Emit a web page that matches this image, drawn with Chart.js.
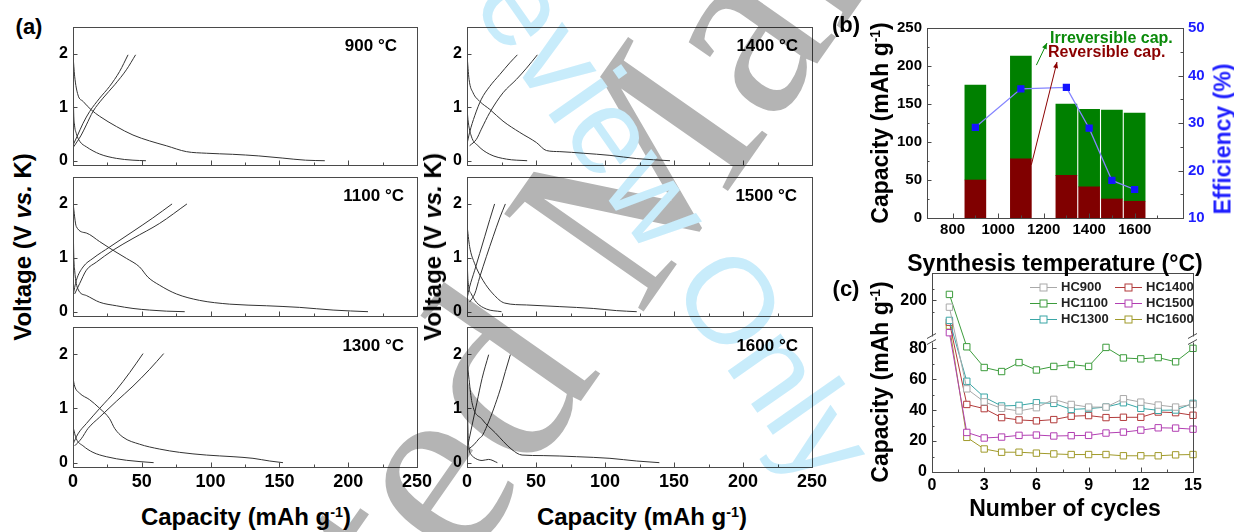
<!DOCTYPE html>
<html>
<head>
<meta charset="utf-8">
<title>Hard carbon anodes</title>
<script src="https://cdn.jsdelivr.net/npm/chart.js@4.4.1/dist/chart.umd.min.js"></script>
<style>
  html, body { margin: 0; padding: 0; }
  body { width: 1234px; height: 532px; position: relative; overflow: hidden; background: #fff;
         font-family: "Liberation Sans", Arial, sans-serif; }
  canvas { position: absolute; }
  .t { position: absolute; font-weight: bold; color: #000; white-space: nowrap; line-height: 1;
       transform: translate(-50%, -50%); }
  .rot { transform: translate(-50%, -50%) rotate(-90deg); }
  .t sup { font-size: 60%; vertical-align: 0.55em; line-height: 0; }
  #wm { position: absolute; left: 0; top: 0; pointer-events: none; mix-blend-mode: multiply; }
</style>
</head>
<body>
<canvas id="a900" width="390" height="144" style="left:43px;top:24px"></canvas>
<canvas id="a1100" width="390" height="145" style="left:43px;top:174px"></canvas>
<canvas id="a1300" width="390" height="171" style="left:43px;top:324px"></canvas>
<canvas id="a1400" width="395" height="144" style="left:437px;top:24px"></canvas>
<canvas id="a1500" width="395" height="145" style="left:437px;top:174px"></canvas>
<canvas id="a1600" width="395" height="171" style="left:437px;top:324px"></canvas>
<canvas id="b" width="328" height="224" style="left:887px;top:20px"></canvas>
<canvas id="c" width="315" height="230" style="left:892px;top:266px"></canvas>

<div class="t" style="left:29px;top:27px;font-size:22px">(a)</div>
<div class="t" style="left:846px;top:25px;font-size:22px">(b)</div>
<div class="t" style="left:846px;top:289px;font-size:22px">(c)</div>
<div class="t rot" style="left:23px;top:247px;font-size:24px">Voltage (V <i>vs.</i> K)</div>
<div class="t rot" style="left:433px;top:247px;font-size:24px">Voltage (V <i>vs.</i> K)</div>
<div class="t" style="left:246px;top:517px;font-size:24px">Capacity (mAh g<sup>-1</sup>)</div>
<div class="t" style="left:642px;top:517px;font-size:24px">Capacity (mAh g<sup>-1</sup>)</div>
<div class="t rot" style="left:880px;top:123px;font-size:23px">Capacity (mAh g<sup>-1</sup>)</div>
<div class="t rot" style="left:1223px;top:139px;font-size:23px;color:#1e1eff">Efficiency (%)</div>
<div class="t" style="left:1055px;top:263px;font-size:23px">Synthesis temperature (°C)</div>
<div class="t rot" style="left:880px;top:382px;font-size:23px">Capacity (mAh g<sup>-1</sup>)</div>
<div class="t" style="left:1065px;top:508px;font-size:23px">Number of cycles</div>

<svg id="wm" width="1234" height="532">
  <text transform="translate(39,1175) rotate(-55)" font-family="Liberation Serif" font-size="260" fill="#b4b4b4">Accepted Manuscript</text>
  <text transform="translate(128,-486) rotate(55)" font-family="Liberation Sans" font-size="122" fill="#c8ecfb">For Peer Review Only</text>
</svg>

<script>
// ---------- (a) charge / discharge profiles: [capacity mAh/g, voltage V] ----------
const dis1_900 = [[0,1.98],[1.2,1.58],[3.6,1.23],[7.3,1.11],[13.3,0.95],[19.4,0.83],[31.5,0.64],[43.6,0.48],[55.7,0.37],[67.8,0.28],[82.4,0.17],[96.9,0.14],[116,0.12],[135,0.09],[152,0.05],[169,0.01],[183,0]];
const dis2_900 = [[0,1.9],[0.4,1.0],[1.0,0.7],[2.4,0.51],[5,0.36],[9.7,0.26],[19.4,0.125],[31.5,0.044],[43.6,0.01],[53,0]];
const chg1_900 = [[0,0.29],[2.9,0.45],[7.3,0.7],[12.1,0.92],[19.4,1.17],[26.6,1.39],[33.9,1.67],[40,1.98]];
const chg2_900 = [[0.5,0.26],[6,0.48],[9.7,0.67],[14.5,0.92],[21.8,1.17],[30.3,1.42],[38.8,1.7],[45.5,1.98]];

const dis1_1100 = [[0,2.02],[2.4,1.58],[9.7,1.46],[19.4,1.3],[29.1,1.14],[38.8,0.99],[48.4,0.83],[54.5,0.64],[63,0.49],[75.1,0.33],[92,0.21],[113.9,0.14],[140.5,0.11],[164.7,0.08],[189,0.03],[214.4,0]];
const dis2_1100 = [[0,1.95],[0.5,1.1],[1.2,0.77],[3.6,0.42],[9.7,0.3],[19.4,0.175],[31.5,0.11],[43.6,0.06],[55.7,0.03],[67.8,0.01],[81.2,0]];
const chg1_1100 = [[0,0.3],[2.4,0.58],[7.3,0.83],[14.5,0.99],[26.6,1.2],[43.6,1.49],[58,1.74],[72,2.0]];
const chg2_1100 = [[1.2,0.33],[4.8,0.52],[9.7,0.77],[17,0.92],[29,1.14],[43.6,1.36],[63,1.64],[82.8,2.0]];

const dis1_1300 = [[0,1.56],[1.2,1.41],[4.8,1.28],[12.1,1.16],[19.4,1.0],[26.6,0.81],[30.3,0.63],[36.3,0.47],[48.4,0.34],[63,0.25],[77.5,0.19],[96.9,0.14],[116.3,0.11],[130.8,0.08],[143,0.03],[152.6,0]];
const dis2_1300 = [[0,0.66],[2.4,0.44],[7.3,0.31],[14.5,0.19],[24.2,0.11],[38.8,0.044],[58.6,0]];
const chg1_1300 = [[0,0.34],[3.6,0.53],[9.7,0.72],[19.4,1.0],[31.5,1.34],[41.2,1.66],[50.9,2.01]];
const chg2_1300 = [[1.2,0.31],[6,0.44],[10.9,0.63],[19.4,0.84],[31.5,1.13],[43.6,1.41],[55.7,1.72],[65.9,2.01]];

const dis1_1400 = [[0,1.98],[1.5,1.52],[4.4,1.27],[9.2,1.11],[16.5,0.96],[26.1,0.74],[38.2,0.53],[50.3,0.34],[57.6,0.19],[67.3,0.17],[84.2,0.14],[103.6,0.1],[123,0.04],[147.1,0]];
const dis2_1400 = [[0,1.0],[0.7,0.77],[3.1,0.46],[8,0.28],[16.5,0.12],[28.6,0.03],[43.6,0]];
const chg1_1400 = [[0,0.31],[1.9,0.53],[5.6,0.84],[10.4,1.15],[16.5,1.39],[23.7,1.61],[31,1.83],[36.5,1.98]];
const chg2_1400 = [[1.9,0.28],[6.8,0.4],[10.4,0.59],[16.5,0.9],[26.1,1.27],[35.8,1.52],[43.1,1.73],[51,1.98]];

const dis1_1500 = [[0,1.61],[1.9,1.21],[5.6,0.89],[11.6,0.58],[18.9,0.33],[27.3,0.16],[43.1,0.125],[67.3,0.094],[91.5,0.06],[108.4,0.02],[123,0]];
const dis2_1500 = [[0,1.08],[0.7,0.58],[3.1,0.33],[6.8,0.175],[14,0.05],[25,0]];
const chg1_1500 = [[0,0.24],[1.9,0.46],[5.6,0.77],[9.2,1.08],[12.8,1.39],[16.5,1.71],[20,2.0]];
const chg2_1500 = [[1.9,0.18],[5.6,0.33],[9.2,0.64],[14,1.02],[18.9,1.39],[23.7,1.74],[27.8,2.0]];

const dis1_1600 = [[0,1.9],[1.5,1.53],[3.6,1.11],[10.9,0.8],[20.5,0.55],[32.6,0.24],[39.9,0.14],[55.2,0.13],[79.4,0.11],[103.6,0.08],[123,0.03],[139.4,0]];
const dis2_1600 = [[0,2.0],[0.3,1.2],[0.6,0.7],[1.2,0.32],[3,0.15],[4.8,0.1],[10.9,0.04],[15.7,0.06],[22,0]];
const chg1_1600 = [[0.3,0.28],[3.6,0.68],[7.2,1.11],[10.9,1.55],[15.7,1.99]];
const chg2_1600 = [[1,0.25],[5,0.33],[9,0.45],[10.9,0.49],[14.5,0.68],[19.3,0.99],[24.2,1.36],[27.8,1.68],[31.4,1.99]];

const voltTicks = [0, 1, 2];

// ---------- (b) first-cycle capacities vs synthesis temperature ----------
const synthTemps = [900, 1100, 1300, 1400, 1500, 1600];
const reversibleCap = [50, 78, 56, 41, 25, 22];
const irreversibleCap = [125, 135, 94, 102, 117, 116];
const efficiency = [29.1, 37.2, 37.5, 28.9, 17.9, 16.0];
const tempTicks = [800, 1000, 1200, 1400, 1600];

// ---------- (c) cycling ----------
const cycles = [1, 2, 3, 4, 5, 6, 7, 8, 9, 10, 11, 12, 13, 14, 15];
const hc900 = [185, 53.8, 45.4, 41.2, 39.5, 41.6, 47, 43.7, 42, 42, 47.4, 45.2, 43.3, 42, 43.7];
const hc1100 = [213, 81, 67.6, 65, 70.8, 66, 68.3, 69.5, 68.3, 80.6, 73.8, 73.2, 74, 71.3, 80];
const hc1300 = [156, 58.7, 48.4, 42.7, 43.1, 44.8, 44.4, 40.5, 41, 42, 44.8, 41.2, 39.9, 40.1, 44.4];
const hc1400 = [152, 43.7, 41, 35.2, 33.7, 33.1, 33.9, 36.1, 36.5, 35.2, 35.4, 35.4, 38.8, 38.4, 36.7];
const hc1500 = [129, 25.6, 22, 22.6, 23.7, 23.9, 23.3, 23.5, 23.7, 25.2, 25.8, 27.1, 28.6, 28.4, 27.7];
const hc1600 = [144, 22.4, 14.9, 12.8, 12.8, 12.2, 11.7, 11.3, 11.3, 11.3, 10.5, 10.5, 10.5, 11.1, 11.3];
const cycTicks = [0, 20, 40, 60, 80, 200];
const cycMinorTicks = [10, 30, 50, 70, 175, 225];

const FONT = '"Liberation Sans", Arial, sans-serif';
Chart.defaults.font.family = FONT;
Chart.defaults.font.weight = 'bold';
Chart.defaults.color = '#000';
Chart.defaults.animation = false;

// y axis of (c) is broken: 0..86 on the lower 2/3, 115..260 on top
const brkCfg = { low: 86, high: 115, frac: 0.668 };
class BrokenScale extends Chart.LinearScale {
  static id = 'broken';
  static defaults = Chart.LinearScale.defaults;
  buildTicks() { return cycTicks.map(v => ({ value: v })); }
  getPixelForValue(value) {
    const h = this.bottom - this.top, lowH = h * brkCfg.frac;
    if (value <= brkCfg.low) return this.bottom - (value - this.min) / (brkCfg.low - this.min) * lowH;
    const v = Math.max(value, brkCfg.high);
    return this.bottom - lowH - (v - brkCfg.high) / (this.max - brkCfg.high) * (h - lowH);
  }
  getValueForPixel(pixel) {
    const h = this.bottom - this.top, lowH = h * brkCfg.frac;
    const d = this.bottom - pixel;
    if (d <= lowH) return this.min + d / lowH * (brkCfg.low - this.min);
    return brkCfg.high + (d - lowH) / (h - lowH) * (this.max - brkCfg.high);
  }
}
Chart.register(BrokenScale);

// frame, inward ticks, labels etc.
const decorCfg = {};
function steps(min, max, step) {
  const out = [];
  if (!step) return out;
  for (let v = Math.ceil(min / step - 1e-9) * step; v <= max + 1e-9; v += step) out.push(+v.toFixed(6));
  return out;
}
function drawTicks(ctx, a, s, vals, len) {
  ctx.beginPath();
  vals.forEach(v => {
    const p = Math.round(s.getPixelForValue(v)) + 0.5;
    if (s.isHorizontal()) { ctx.moveTo(p, a.bottom); ctx.lineTo(p, a.bottom - len); }
    else if (s.position === 'right') { ctx.moveTo(a.right, p); ctx.lineTo(a.right - len, p); }
    else { ctx.moveTo(a.left, p); ctx.lineTo(a.left + len, p); }
  });
  ctx.stroke();
}
function arrow(ctx, x1, y1, x2, y2) {
  ctx.beginPath(); ctx.moveTo(x1, y1); ctx.lineTo(x2, y2); ctx.stroke();
  const ang = Math.atan2(y2 - y1, x2 - x1);
  ctx.beginPath();
  ctx.moveTo(x2, y2);
  ctx.lineTo(x2 - 6 * Math.cos(ang) + 2.5 * Math.sin(ang), y2 - 6 * Math.sin(ang) - 2.5 * Math.cos(ang));
  ctx.lineTo(x2 - 6 * Math.cos(ang) - 2.5 * Math.sin(ang), y2 - 6 * Math.sin(ang) + 2.5 * Math.cos(ang));
  ctx.closePath(); ctx.fill();
}

const decor = {
  id: 'decor',
  afterDatasetsDraw(chart) {
    const o = decorCfg[chart.canvas.id];
    if (!o) return;
    const ctx = chart.ctx, a = chart.chartArea;
    ctx.save();
    ctx.lineWidth = 1;
    ctx.strokeStyle = '#4a4a4a';
    ctx.strokeRect(Math.round(a.left) + 0.5, Math.round(a.top) + 0.5, Math.round(a.right - a.left), Math.round(a.bottom - a.top));
    o.ticks.forEach(t => {
      const s = chart.scales[t.id];
      const major = t.values || steps(s.min, s.max, t.step);
      const minor = t.minorValues || steps(s.min, s.max, t.minor).filter(v => !major.some(m => Math.abs(m - v) < 1e-6));
      drawTicks(ctx, a, s, major, 4.5);
      drawTicks(ctx, a, s, minor, 2.5);
    });
    if (o.label) {
      ctx.fillStyle = '#000';
      ctx.font = 'bold 17px ' + FONT;
      ctx.textAlign = 'right';
      ctx.textBaseline = 'middle';
      ctx.fillText(o.label, a.right - o.labelInset, a.top + 19);
    }
    if (o.notes) {
      o.notes.forEach(n => {
        const bar = chart.getDatasetMeta(n.ds).data[n.idx];
        ctx.strokeStyle = n.color; ctx.fillStyle = n.color;
        arrow(ctx, bar.x + bar.width / 2 + n.dx, bar.y + n.dy, a.left + n.ax, a.top + n.ay);
        ctx.font = 'bold 16px ' + FONT;
        ctx.textAlign = 'left'; ctx.textBaseline = 'middle';
        ctx.fillText(n.text, a.left + n.tx, a.top + n.ty);
      });
    }
    if (o.brk) {
      const s = chart.scales.y;
      const y = Math.round(s.bottom - (s.bottom - s.top) * brkCfg.frac) + 0.5;
      ctx.strokeStyle = '#4a4a4a';
      [a.left, a.right].forEach(x => {
        ctx.fillStyle = '#fff';
        ctx.fillRect(x - 2, y - 3, 5, 6);
        ctx.beginPath();
        ctx.moveTo(x - 5, y - 1); ctx.lineTo(x + 4, y - 6);
        ctx.moveTo(x - 5, y + 5); ctx.lineTo(x + 4, y);
        ctx.stroke();
      });
    }
    if (o.legend) {
      ctx.font = 'bold 13px ' + FONT;
      ctx.textAlign = 'left'; ctx.textBaseline = 'middle';
      chart.data.datasets.forEach((ds, i) => {
        const x0 = a.left + o.legend.cols[Math.floor(i / 3)], y0 = Math.round(a.top + o.legend.rows[i % 3]) + 0.5;
        ctx.strokeStyle = ds.borderColor;
        ctx.beginPath(); ctx.moveTo(x0, y0); ctx.lineTo(x0 + 27, y0); ctx.stroke();
        ctx.fillStyle = '#fff'; ctx.fillRect(x0 + 10, y0 - 3.5, 7, 7);
        ctx.strokeRect(x0 + 10, y0 - 3.5, 7, 7);
        ctx.fillStyle = '#222'; ctx.fillText(ds.label, x0 + 31, y0);
      });
    }
    ctx.restore();
  }
};
Chart.register(decor);

const pts = arr => arr.map(p => ({ x: p[0], y: p[1] }));

function voltageChart(id, curves, label, showX, padR, inset) {
  decorCfg[id] = { label, labelInset: inset, ticks: [{ id: 'x', step: 50, minor: 25 }, { id: 'y', values: voltTicks }] };
  return new Chart(document.getElementById(id), {
    type: 'line',
    data: {
      datasets: curves.map(c => ({
        data: pts(c), borderColor: '#333', borderWidth: 1, pointRadius: 0,
        cubicInterpolationMode: 'monotone', fill: false
      }))
    },
    options: {
      responsive: false, devicePixelRatio: 1, events: [],
      layout: { padding: { top: 3, right: padR, left: 0, bottom: 0 } },
      plugins: { legend: { display: false }, tooltip: { enabled: false } },
      scales: {
        x: {
          type: 'linear', min: 0, max: 250,
          grid: { display: false, drawTicks: false }, border: { display: false },
          ticks: { display: showX, stepSize: 50, padding: 4, font: { size: 18, weight: 'bold' }, callback: v => v },
          afterFit: s => { s.height = showX ? 28 : 3; s.paddingLeft = 0; s.paddingRight = 0; }
        },
        y: {
          type: 'linear', min: -0.08, max: 2.5,
          afterBuildTicks: s => { s.ticks = voltTicks.map(v => ({ value: v })); },
          grid: { display: false, drawTicks: false }, border: { display: false },
          ticks: { padding: 5, font: { size: 16, weight: 'bold' }, callback: v => v },
          afterFit: s => { s.width = 30; s.paddingTop = 0; s.paddingBottom = 0; }
        }
      }
    }
  });
}

voltageChart('a900', [dis1_900, dis2_900, chg1_900, chg2_900], '900 °C', false, 16, 20);
voltageChart('a1100', [dis1_1100, dis2_1100, chg1_1100, chg2_1100], '1100 °C', false, 16, 13);
voltageChart('a1300', [dis1_1300, dis2_1300, chg1_1300, chg2_1300], '1300 °C', true, 16, 13);
voltageChart('a1400', [dis1_1400, dis2_1400, chg1_1400, chg2_1400], '1400 °C', false, 20, 14);
voltageChart('a1500', [dis1_1500, dis2_1500, chg1_1500, chg2_1500], '1500 °C', false, 20, 15);
voltageChart('a1600', [dis1_1600, dis2_1600, chg1_1600, chg2_1600], '1600 °C', true, 20, 14);

// ---------- (b) ----------
decorCfg['b'] = {
  ticks: [{ id: 'x', step: 200, minor: 100 }, { id: 'y', step: 50, minor: 25 }, { id: 'y1', step: 10, minor: 5 }],
  notes: [
    { ds: 1, idx: 1, dx: 5, dy: 9, ax: 120, ay: 15, tx: 123, ty: 11, text: 'Irreversible cap.', color: '#0a8a0a' },
    { ds: 0, idx: 1, dx: 0, dy: 6, ax: 130, ay: 34, tx: 121, ty: 25, text: 'Reversible cap.', color: '#8b0000' }
  ]
};
new Chart(document.getElementById('b'), {
  type: 'bar',
  data: {
    datasets: [
      { type: 'bar', label: 'Reversible cap.', data: synthTemps.map((t, i) => ({ x: t, y: reversibleCap[i] })),
        backgroundColor: '#800000', barThickness: 21, order: 2 },
      { type: 'bar', label: 'Irreversible cap.', data: synthTemps.map((t, i) => ({ x: t, y: irreversibleCap[i] })),
        backgroundColor: '#008000', barThickness: 21, order: 2 },
      { type: 'line', label: 'Efficiency', yAxisID: 'y1', data: synthTemps.map((t, i) => ({ x: t, y: efficiency[i] })),
        borderColor: '#8585ff', borderWidth: 1.3, pointStyle: 'rect', pointRadius: 4.2,
        pointBackgroundColor: '#1414ff', pointBorderColor: '#1414ff', order: 1 }
    ]
  },
  options: {
    responsive: false, devicePixelRatio: 1, events: [],
    layout: { padding: { top: 8, right: 0, left: 0, bottom: 0 } },
    plugins: { legend: { display: false }, tooltip: { enabled: false } },
    scales: {
      x: {
        type: 'linear', min: 800, max: 1700, stacked: true,
        afterBuildTicks: s => { s.ticks = tempTicks.map(v => ({ value: v })); },
        grid: { display: false, drawTicks: false }, border: { display: false },
        ticks: { padding: 3, font: { size: 15, weight: 'bold' }, callback: v => v },
        afterFit: s => { s.height = 26; s.paddingLeft = 0; s.paddingRight = 0; }
      },
      y: {
        type: 'linear', min: 0, max: 250, stacked: true,
        grid: { display: false, drawTicks: false }, border: { display: false },
        ticks: { stepSize: 50, padding: 5, font: { size: 15, weight: 'bold' }, callback: v => v },
        afterFit: s => { s.width = 40; s.paddingTop = 0; s.paddingBottom = 0; }
      },
      y1: {
        type: 'linear', position: 'right', min: 10, max: 50,
        grid: { display: false, drawTicks: false }, border: { display: false },
        ticks: { stepSize: 10, padding: 5, color: '#1e1eff', font: { size: 15, weight: 'bold' }, callback: v => v },
        afterFit: s => { s.width = 32; s.paddingTop = 0; s.paddingBottom = 0; }
      }
    }
  }
});

// ---------- (c) ----------
const cycColors = ['#a9a9a9', '#3c9c3c', '#3aa6a6', '#b23b3b', '#b23fb2', '#a09a2a'];
const cycNames = ['HC900', 'HC1100', 'HC1300', 'HC1400', 'HC1500', 'HC1600'];
const cycSeries = [hc900, hc1100, hc1300, hc1400, hc1500, hc1600];
decorCfg['c'] = {
  ticks: [{ id: 'x', step: 3, minor: 1.5 }, { id: 'y', values: cycTicks, minorValues: cycMinorTicks }],
  brk: true,
  legend: { cols: [98, 183], rows: [14, 30, 46] }
};
new Chart(document.getElementById('c'), {
  type: 'line',
  data: {
    datasets: cycSeries.map((vals, k) => ({
      label: cycNames[k],
      data: cycles.map((c, i) => ({ x: c, y: vals[i] })),
      borderColor: cycColors[k], borderWidth: 1, clip: false,
      pointStyle: 'rect', pointRadius: 4.5, pointBorderWidth: 1,
      pointBackgroundColor: '#fff', pointBorderColor: cycColors[k]
    }))
  },
  options: {
    responsive: false, devicePixelRatio: 1, events: [],
    layout: { padding: { top: 7, right: 14, left: 0, bottom: 0 } },
    plugins: { legend: { display: false }, tooltip: { enabled: false } },
    scales: {
      x: {
        type: 'linear', min: 0, max: 15,
        grid: { display: false, drawTicks: false }, border: { display: false },
        ticks: { stepSize: 3, padding: 4, font: { size: 16, weight: 'bold' }, callback: v => v },
        afterFit: s => { s.height = 24; s.paddingLeft = 0; s.paddingRight = 0; }
      },
      y: {
        type: 'broken', min: 0, max: 260,
        grid: { display: false, drawTicks: false }, border: { display: false },
        ticks: { padding: 5, font: { size: 16, weight: 'bold' }, callback: v => v },
        afterFit: s => { s.width = 40; s.paddingTop = 0; s.paddingBottom = 0; }
      }
    }
  }
});
</script>
</body>
</html>
